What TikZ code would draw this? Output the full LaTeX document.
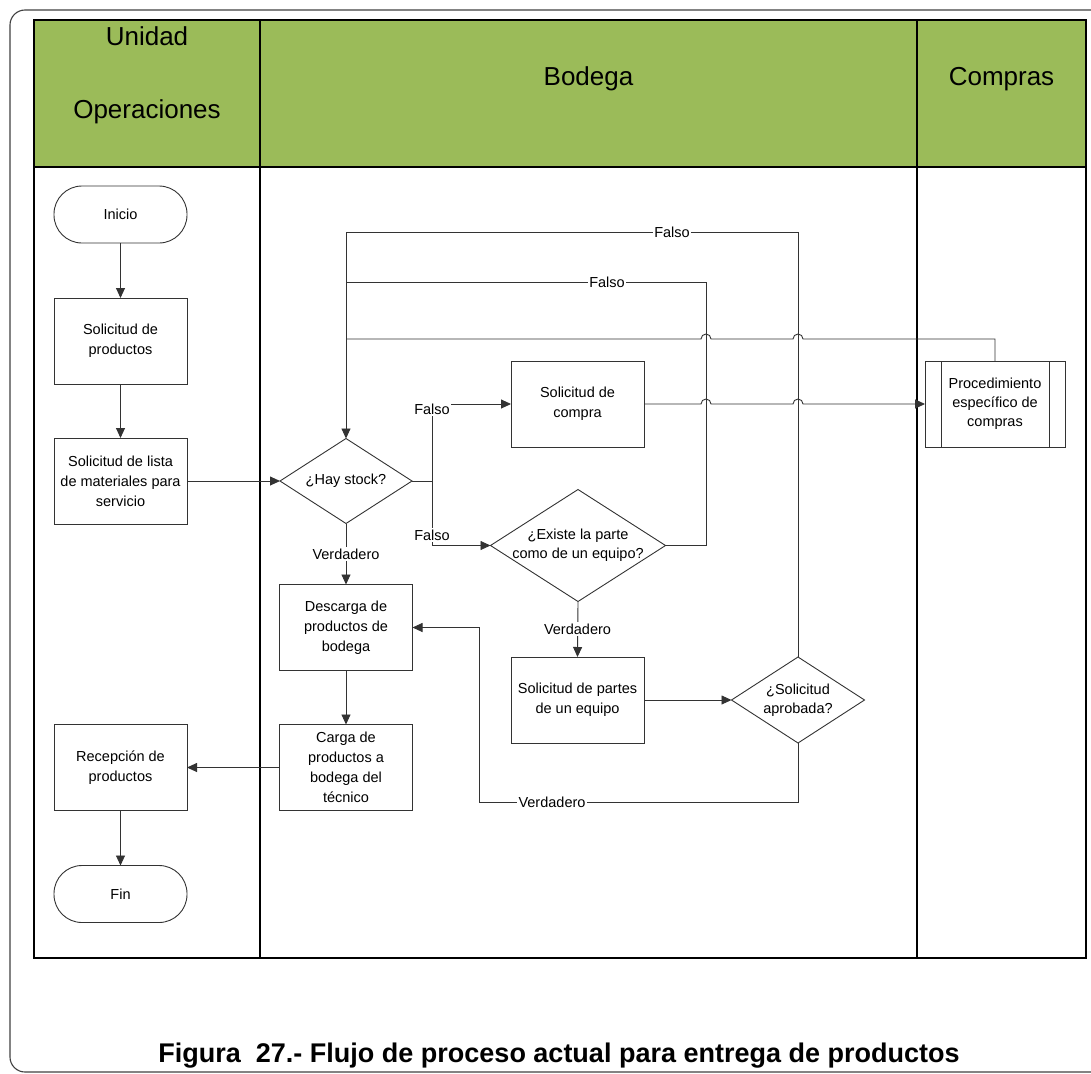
\documentclass[tikz,border=0pt]{standalone}
\usepackage{fontspec}
\setmainfont{Liberation Sans}
\usetikzlibrary{arrows.meta,shapes.geometric,calc}
\definecolor{lanegreen}{HTML}{9BBB59}
\definecolor{lineg}{HTML}{333333}

\begin{document}
\begin{tikzpicture}[x=1pt,y=1pt,
  every node/.style={inner sep=0pt, outer sep=0pt},
  txt/.style={font=\fontsize{14.5}{20}\selectfont, align=center},
  dtxt/.style={font=\fontsize{14.5}{19}\selectfont, align=center},
  box/.style={txt, draw=lineg, line width=0.9pt, minimum width=133pt, minimum height=86pt, fill=white},
  term/.style={box, minimum height=57pt, rounded corners=28pt},
  decision/.style={diamond, draw=lineg, line width=0.9pt, fill=white},
  conn/.style={draw=lineg, line width=0.9pt},
  arr/.style={conn, -{Triangle[length=10pt,width=9pt]}},
  tag/.style={font=\fontsize{14.5}{17}\selectfont, fill=white, inner sep=1.5pt},
  hdr/.style={font=\fontsize{26}{30}\selectfont},
  lane/.style={draw=black, line width=1.8pt},
]
\useasboundingbox (0,0) rectangle (1091,-1073);

% page frame
\draw[black!75, line width=1.1pt, rounded corners=15pt] (10,-10) rectangle (1140,-1072);

% swimlanes
\fill[lanegreen] (34,-20) rectangle (1086,-167);
\draw[lane] (34,-20) rectangle (1086,-958);
\draw[lane] (34,-167) -- (1086,-167);
\draw[lane] (260,-20) -- (260,-958);
\draw[lane] (917,-20) -- (917,-958);

\node[hdr, anchor=base] (hU) at (147,-45.7) {Unidad};
\node[hdr, anchor=base] (hO) at (147,-118) {Operaciones};
\node[hdr, anchor=base] (hB) at (588.5,-85) {Bodega};
\node[hdr, anchor=base] (hC) at (1001.5,-85) {Compras};

% Unidad Operaciones
\node[term] (ini) at (120.5,-214.5) {Inicio};
\node[box] (sp) at (120.5,-341) {Solicitud de\\productos};
\node[box] (sl) at (120.5,-481) {Solicitud de lista\\de materiales para\\servicio};
\node[box] (re) at (120.5,-767.5) {Recepción de\\productos};
\node[term] (fin) at (120.5,-894) {Fin};

% Bodega
\node[decision, minimum width=132pt, minimum height=85pt,
      label={[dtxt]center:{¿Hay stock?}}] (hs) at (346,-481) {};
\node[box] (de) at (346,-627.5) {Descarga de\\productos de\\bodega};
\node[box] (ca) at (346,-767.5) {Carga de\\productos a\\bodega del\\técnico};
\node[box] (sc) at (577.5,-404) {Solicitud de\\compra};
\node[decision, minimum width=175pt, minimum height=112pt,
      label={[dtxt]center:{¿Existe la parte\\como de un equipo?}}] (ex) at (578,-545.5) {};
\node[box] (pe) at (577.5,-700) {Solicitud de partes\\de un equipo};
\node[decision, minimum width=133pt, minimum height=86pt,
      label={[dtxt]center:{¿Solicitud\\aprobada?}}] (ap) at (798,-700) {};

% Compras
\node[box, dtxt, minimum width=140pt] (proc) at (995,-404) {Procedimiento\\específico de\\compras};
\draw[conn] ($(proc.north west)+(16,0)$) -- ($(proc.south west)+(16,0)$);
\draw[conn] ($(proc.north east)+(-16,0)$) -- ($(proc.south east)+(-16,0)$);

% connectors
\coordinate (fork) at (432,-481);
\coordinate (pj) at (346,-339);
\coordinate (eF) at (706,-282);
\coordinate (aF) at (346,-232);
\coordinate (vB) at (479,-802);

\draw[arr] (ini) -- (sp);
\draw[arr] (sp) -- (sl);
\draw[arr] (sl.east) -- (hs.west);
\draw[conn] (hs.east) -- (fork);
\draw[arr] (fork) |- (sc.west);
\draw[arr] (fork) |- (ex.west);
\draw[arr] (hs.south) -- (de.north);
\draw[arr] (de.south) -- (ca.north);
\draw[arr] (ca.west) -- (re.east);
\draw[arr] (re.south) -- (fin.north);
\draw[arr] (ex.south) -- (pe.north);
\draw[arr] (pe.east) -- (ap.west);

% purchase request to the purchasing procedure, hopping over two lines
\draw[arr] (sc.east) -- (701,-404) arc[start angle=180, end angle=0, radius=5pt]
  -- (793,-404) arc[start angle=180, end angle=0, radius=5pt] -- (proc.west);
% return from the purchasing procedure
\draw[conn] (proc.north) |- (803,-339) arc[start angle=0, end angle=180, radius=5pt]
  -- (711,-339) arc[start angle=0, end angle=180, radius=5pt] -- (pj);
\draw[conn] (ex.east) -| (eF) -- (eF -| pj);
\draw[arr] (ap.north) |- (aF) -- (hs.north);
\draw[arr] (ap.south) |- (vB) |- (de.east);

% branch labels
\node[tag] (f1) at (672,-232) {Falso};
\node[tag] (f2) at (607,-282) {Falso};
\node[tag] (f3) at (432,-409) {Falso};
\node[tag] (f4) at (432,-535) {Falso};
\node[tag] (v1) at (346,-554) {Verdadero};
\node[tag] (v2) at (577.5,-629) {Verdadero};
\node[tag] (v3) at (552,-802) {Verdadero};

% caption
\node[font=\bfseries\fontsize{27}{30}\selectfont, anchor=base] (cap) at (559,-1062)
  {Figura\ \ 27.- Flujo de proceso actual para entrega de productos};
\end{tikzpicture}
\end{document}
